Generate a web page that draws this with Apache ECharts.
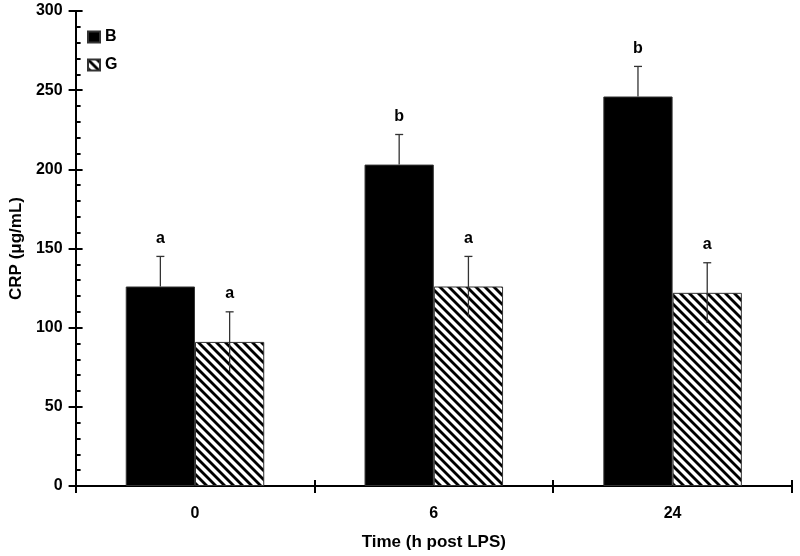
<!DOCTYPE html>
<html>
<head>
<meta charset="utf-8">
<script src="https://cdn.jsdelivr.net/npm/echarts@6/dist/echarts.min.js"></script>
<style>
  html, body { margin: 0; padding: 0; background: #fff; }
  #chart { width: 800px; height: 556px; }
</style>
</head>
<body>
<div id="chart"></div>
<script>
// Data
const categories = ['0', '6', '24'];
const valuesB = [126, 203, 246];
const valuesG = [91, 126, 122];
const errB = [19, 19, 19];
const errG = [19, 19, 19];
const lettersB = ['a', 'b', 'b'];
const lettersG = ['a', 'a', 'a'];

const FONT = 'Liberation Sans';
const BAR_FRAC = 0.29; // each bar as fraction of category width

// hatch pattern (\\ stripes)
function makeHatch() {
  const c = document.createElement('canvas');
  const s = 9;
  c.width = s; c.height = s;
  const ctx = c.getContext('2d');
  ctx.fillStyle = '#fff';
  ctx.fillRect(0, 0, s, s);
  ctx.strokeStyle = '#000';
  ctx.lineWidth = 2.8;
  for (let k = -1; k <= 1; k++) {
    ctx.beginPath();
    ctx.moveTo(k * s - 1, -1);
    ctx.lineTo(k * s + s + 1, s + 1);
    ctx.stroke();
  }
  return c;
}
const hatch = { image: makeHatch(), repeat: 'repeat' };

// error bars + significance letters
function errorSeries(name, vals, errs, letters, side, showLower) {
  return {
    type: 'custom',
    name: name + '_err',
    z: 5,
    silent: true,
    data: vals.map((v, i) => [i, v, errs[i]]),
    renderItem: function (params, api) {
      const i = api.value(0);
      const v = api.value(1);
      const e = api.value(2);
      const bw = api.size([1, 0])[0] * BAR_FRAC;
      const cx = api.coord([i, v])[0] + side * bw / 2;
      const top = api.coord([i, v + e])[1];
      const bot = api.coord([i, showLower ? v - e : v])[1];
      const style = { stroke: '#333', lineWidth: 1.3 };
      return {
        type: 'group',
        children: [
          { type: 'line', shape: { x1: cx, y1: bot, x2: cx, y2: top }, style: style },
          { type: 'line', shape: { x1: cx - 4, y1: top, x2: cx + 4, y2: top }, style: style },
          {
            type: 'text',
            style: {
              x: cx, y: top - 10,
              text: letters[i],
              fill: '#000',
              font: 'bold 16px "' + FONT + '"',
              align: 'center',
              verticalAlign: 'bottom'
            }
          }
        ]
      };
    }
  };
}

const chart = echarts.init(document.getElementById('chart'));

const labelStyle = { color: '#000', fontFamily: FONT, fontWeight: 'bold', fontSize: 16 };

chart.setOption({
  backgroundColor: '#fff',
  animation: false,
  grid: { left: 75, right: 8, top: 11, bottom: 70, containLabel: false },
  legend: {
    data: [{ name: 'B', icon: 'rect' }, { name: 'G', icon: 'rect' }],
    orient: 'vertical',
    left: 82,
    top: 24,
    itemWidth: 12,
    itemHeight: 11,
    itemGap: 12,
    textStyle: { color: '#000', fontFamily: FONT, fontWeight: 'bold', fontSize: 16 }
  },
  xAxis: [
    {
      type: 'category',
      data: categories,
      name: 'Time (h post LPS)',
      nameLocation: 'middle',
      nameGap: 48,
      nameTextStyle: { color: '#000', fontFamily: FONT, fontWeight: 'bold', fontSize: 17 },
      axisLine: { lineStyle: { color: '#000', width: 2 } },
      axisTick: { show: true, length: 7, lineStyle: { color: '#000', width: 2 } },
      axisLabel: Object.assign({ margin: 20 }, labelStyle)
    },
    {
      type: 'category',
      data: categories,
      position: 'bottom',
      axisLine: { show: false },
      axisTick: { show: true, inside: true, length: 6, lineStyle: { color: '#000', width: 2 } },
      axisLabel: { show: false }
    }
  ],
  yAxis: [
    {
      type: 'value',
      min: 0,
      max: 300,
      interval: 50,
      name: 'CRP (μg/mL)',
      nameLocation: 'middle',
      nameRotate: 90,
      nameGap: 46,
      nameTextStyle: { color: '#000', fontFamily: FONT, fontWeight: 'bold', fontSize: 17 },
      axisLine: { show: true, lineStyle: { color: '#000', width: 2 } },
      axisTick: { show: true, length: 7, lineStyle: { color: '#000', width: 2 } },
      axisLabel: Object.assign({ margin: 13 }, labelStyle),
      splitLine: { show: false }
    },
    {
      type: 'value',
      min: 0,
      max: 300,
      interval: 50,
      position: 'left',
      axisLine: { show: false },
      axisTick: { show: true, inside: true, length: 7, lineStyle: { color: '#000', width: 2 } },
      minorTick: { show: true, splitNumber: 5, length: 5, lineStyle: { color: '#000', width: 2 } },
      axisLabel: { show: false },
      splitLine: { show: false }
    }
  ],
  series: [
    {
      name: 'B',
      type: 'bar',
      data: valuesB,
      barWidth: (BAR_FRAC * 100) + '%',
      barGap: '0%',
      itemStyle: { color: '#000', borderColor: '#333', borderWidth: 1 }
    },
    {
      name: 'G',
      type: 'bar',
      data: valuesG,
      barWidth: (BAR_FRAC * 100) + '%',
      barGap: '0%',
      itemStyle: { color: hatch, borderColor: '#333', borderWidth: 1 }
    },
    errorSeries('B', valuesB, errB, lettersB, -1, false),
    errorSeries('G', valuesG, errG, lettersG, 1, true)
  ]
});
</script>
</body>
</html>
